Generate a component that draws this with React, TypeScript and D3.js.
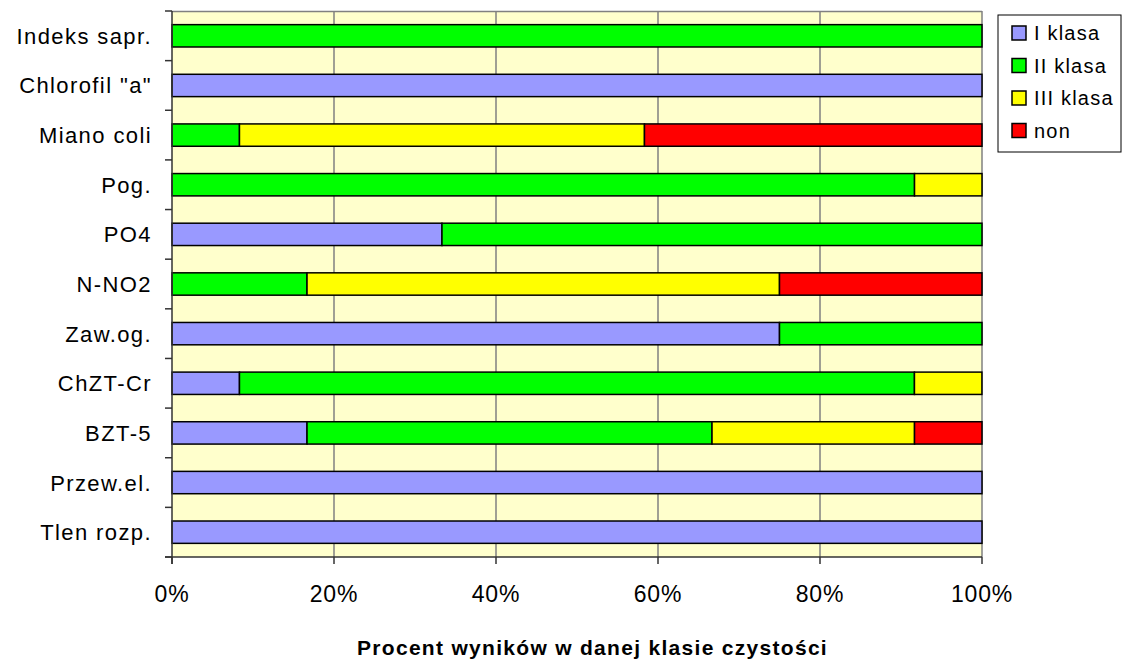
import React from "react";
import * as d3 from "d3";

const categories = [
  "Indeks sapr.",
  'Chlorofil "a"',
  "Miano coli",
  "Pog.",
  "PO4",
  "N-NO2",
  "Zaw.og.",
  "ChZT-Cr",
  "BZT-5",
  "Przew.el.",
  "Tlen rozp.",
];

const seriesNames = ["I klasa", "II klasa", "III klasa", "non"];
const seriesColors = ["#9999FF", "#00FF00", "#FFFF00", "#FF0000"];

// percent values per category (in order of categories)
const klasaI = [0, 100, 0, 0, 33.33, 0, 75, 8.33, 16.67, 100, 100];
const klasaII = [100, 0, 8.33, 91.67, 66.67, 16.67, 25, 83.33, 50, 0, 0];
const klasaIII = [0, 0, 50, 8.33, 0, 58.33, 0, 8.33, 25, 0, 0];
const klasaNon = [0, 0, 41.67, 0, 0, 25, 0, 0, 8.33, 0, 0];

const xTicks = [0, 20, 40, 60, 80, 100];
const xTitle = "Procent wyników w danej klasie czystości";

const W = 1122;
const H = 662;
const PL = 172;
const PR = 982;
const PT = 11;
const PB = 557;
const FONT = "'Liberation Sans', Arial, sans-serif";

export default function App() {
  const x = d3.scaleLinear().domain([0, 100]).range([PL, PR]);
  const y = d3.scaleBand<string>().domain(categories).range([PT, PB]).paddingInner(0).paddingOuter(0);
  const bw = y.bandwidth();
  const barH = bw * 0.45;

  const rows = categories.map((c, i) => ({
    c,
    vals: [klasaI[i], klasaII[i], klasaIII[i], klasaNon[i]],
  }));

  const bandEdges = d3.range(categories.length + 1).map((i) => PT + i * bw);

  return (
    <svg
      width={W}
      height={H}
      style={{ position: "absolute", left: 0, top: 0, background: "#fff" }}
      fontFamily={FONT}
    >
      <rect x={PL} y={PT} width={PR - PL} height={PB - PT} fill="#FFFFCC" />
      <line x1={PL} x2={PR} y1={PT + 0.5} y2={PT + 0.5} stroke="#808080" strokeWidth={1.5} />
      {xTicks.slice(1).map((t) => (
        <line key={"g" + t} x1={x(t)} x2={x(t)} y1={PT} y2={PB} stroke="#808080" strokeWidth={1.5} />
      ))}
      {rows.map((r) => {
        let acc = 0;
        const yy = (y(r.c) as number) + bw / 2 - barH / 2;
        return (
          <g key={r.c}>
            {r.vals.map((v, k) => {
              const x0 = acc;
              acc += v;
              if (v <= 0) return null;
              return (
                <rect
                  key={k}
                  x={x(x0)}
                  y={yy}
                  width={x(acc) - x(x0)}
                  height={barH}
                  fill={seriesColors[k]}
                  stroke="#000"
                  strokeWidth={1.5}
                />
              );
            })}
          </g>
        );
      })}
      {/* axes */}
      <line x1={PL} x2={PL} y1={PT} y2={PB + 7} stroke="#333" strokeWidth={1.5} />
      <line x1={PL - 7} x2={PR} y1={PB} y2={PB} stroke="#333" strokeWidth={1.5} />
      {bandEdges.map((e, i) => (
        <line key={"yt" + i} x1={PL - 7} x2={PL} y1={e} y2={e} stroke="#333" strokeWidth={1.5} />
      ))}
      {xTicks.map((t) => (
        <line key={"xt" + t} x1={x(t)} x2={x(t)} y1={PB} y2={PB + 7} stroke="#333" strokeWidth={1.5} />
      ))}
      {categories.map((c) => (
        <text
          key={"l" + c}
          x={152}
          y={(y(c) as number) + bw / 2 + 8}
          textAnchor="end"
          fontSize={22}
          letterSpacing={1.4}
          fill="#000"
        >
          {c}
        </text>
      ))}
      {xTicks.map((t) => (
        <text key={"xl" + t} x={x(t)} y={602} textAnchor="middle" fontSize={23} letterSpacing={0.8} fill="#000">
          {t + "%"}
        </text>
      ))}
      <text x={357} y={655} textAnchor="start" fontSize={21} fontWeight="bold" letterSpacing={1.3} fill="#000">
        {xTitle}
      </text>
      {/* legend */}
      <rect x={998} y={15} width={123} height={137} fill="#fff" stroke="#000" strokeWidth={1} />
      {seriesNames.map((s, i) => (
        <g key={s}>
          <rect x={1012} y={26 + i * 32.5} width={14} height={14} fill={seriesColors[i]} stroke="#000" strokeWidth={1.5} />
          <text x={1034} y={40 + i * 32.5} fontSize={20} letterSpacing={1.2} fill="#000">
            {s}
          </text>
        </g>
      ))}
    </svg>
  );
}
